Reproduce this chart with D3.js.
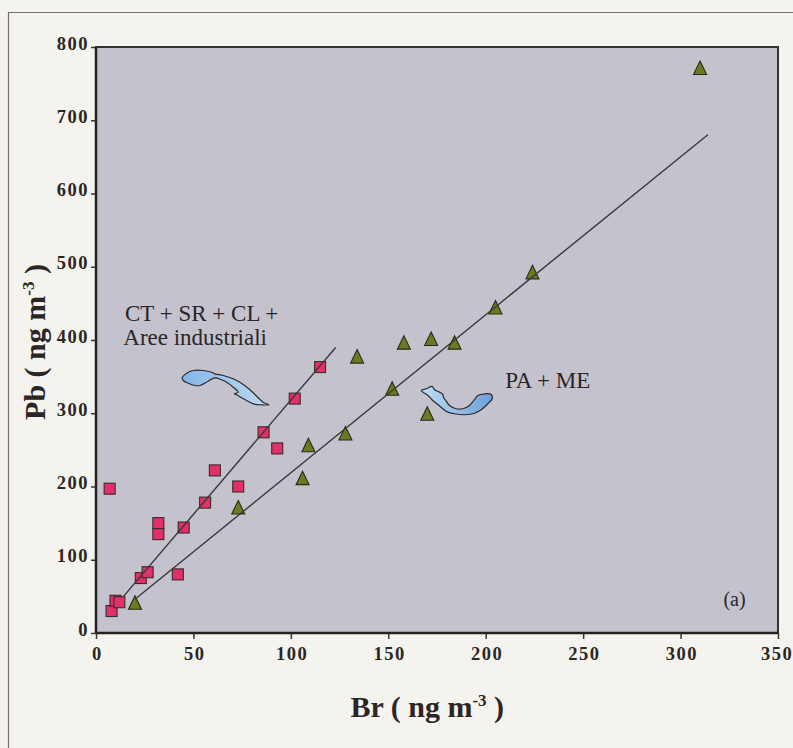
<!DOCTYPE html>
<html><head><meta charset="utf-8">
<script src="https://cdn.jsdelivr.net/npm/d3@7"></script>
<style>
body{margin:0;background:#f5f3ee;}
svg{display:block;}
text{font-family:"Liberation Serif","Times New Roman",serif;fill:#2b2624;}
</style>
</head><body>
<svg id="chart" width="793" height="748"></svg>
<script>
// ---- data ----
const xTickValues = [0, 50, 100, 150, 200, 250, 300, 350];
const yTickValues = [0, 100, 200, 300, 400, 500, 600, 700, 800];

// CT + SR + CL + Aree industriali (squares)
const industrialBr = [7, 8, 10, 12, 23, 26.5, 32, 32, 42, 45, 56, 61, 73, 86, 93, 102, 115];
const industrialPb = [197, 30, 44, 42, 75, 83, 150, 135, 80, 144, 178, 222, 200, 274, 252, 320, 363];

// PA + ME (triangles)
const paMeBr = [20, 73, 106, 109, 128, 134, 152, 158, 170, 172, 184, 205, 224, 310];
const paMePb = [40, 170, 210, 255, 271, 376, 332, 395, 298, 400, 395, 443, 491, 770];

// regression lines: [slope, intercept, xStart, xEnd]
const industrialFit = [3.12, 6, 14, 123];
const paMeFit = [2.157, 3, 20, 314];

// annotation texts
const labelIndustrial1 = "CT + SR + CL +";
const labelIndustrial2 = "Aree industriali";
const labelPaMe = "PA + ME";
const panelLabel = "(a)";

// ---- layout ----
const svg = d3.select("#chart");
const W = 793, H = 748;
const plot = {left: 96, right: 778, top: 47, bottom: 633};

const x = d3.scaleLinear().domain([0, 350]).range([plot.left, plot.right]);
const y = d3.scaleLinear().domain([0, 800]).range([plot.bottom, plot.top]);

// page background & outer frame
svg.append("rect").attr("width", W).attr("height", H).attr("fill", "#f5f3ee");
svg.append("path")
  .attr("d", `M8.5,${H} L8.5,12.5 L${W},12.5`)
  .attr("fill", "none").attr("stroke", "#77726c").attr("stroke-width", 1.2);

// plot area
svg.append("rect")
  .attr("x", plot.left).attr("y", plot.top)
  .attr("width", plot.right - plot.left).attr("height", plot.bottom - plot.top)
  .attr("fill", "#c4c2cd");

// axes
const xAxis = svg.append("g")
  .attr("transform", `translate(0,${plot.bottom})`)
  .call(d3.axisBottom(x).tickValues(xTickValues).tickSize(6).tickPadding(8));
const yAxis = svg.append("g")
  .attr("transform", `translate(${plot.left},0)`)
  .call(d3.axisLeft(y).tickValues(yTickValues).tickSize(5).tickPadding(2));

[xAxis, yAxis].forEach(g => {
  g.select(".domain").remove();
  g.selectAll(".tick line").attr("stroke", "#3a3532").attr("stroke-width", 1.5);
  g.selectAll(".tick text")
    .style("font-family", '"Liberation Serif","Times New Roman",serif')
    .style("font-size", "18.5px").style("font-weight", "bold")
    .style("letter-spacing", "1.5px")
    .attr("fill", "#2b2624");
});
yAxis.selectAll(".tick text").attr("dy", "0.12em");
xAxis.selectAll(".tick text").attr("dx", d => d === 350 ? "-1.5px" : "0.8px");

// plot frame
svg.append("rect")
  .attr("x", plot.left).attr("y", plot.top)
  .attr("width", plot.right - plot.left).attr("height", plot.bottom - plot.top)
  .attr("fill", "none").attr("stroke", "#34332c").attr("stroke-width", 2);
svg.append("line")
  .attr("x1", plot.left).attr("x2", plot.right)
  .attr("y1", plot.bottom).attr("y2", plot.bottom)
  .attr("stroke", "#262220").attr("stroke-width", 2.5);
svg.append("line")
  .attr("x1", plot.left).attr("x2", plot.left)
  .attr("y1", plot.top).attr("y2", plot.bottom)
  .attr("stroke", "#262220").attr("stroke-width", 2.5);

// axis titles
const xt = svg.append("text")
  .attr("x", x(170)).attr("y", 717)
  .attr("text-anchor", "middle")
  .style("font-size", "30px").style("font-weight", "bold");
xt.append("tspan").text("Br ( ng m");
xt.append("tspan").attr("dy", -11).style("font-size", "17px").text("-3");
xt.append("tspan").attr("dy", 11).text(" )");

const yt = svg.append("text")
  .attr("transform", `translate(45,${(y(0) + y(800)) / 2 + 2}) rotate(-90)`)
  .attr("text-anchor", "middle")
  .style("font-size", "30px").style("font-weight", "bold");
yt.append("tspan").text("Pb ( ng m");
yt.append("tspan").attr("dy", -11).style("font-size", "17px").text("-3");
yt.append("tspan").attr("dy", 11).text(" )");

// markers
const industrialData = industrialBr.map((b, i) => ({br: b, pb: industrialPb[i]}));
const paMeData = paMeBr.map((b, i) => ({br: b, pb: paMePb[i]}));

svg.append("g").selectAll("rect").data(industrialData).join("rect")
  .attr("x", d => x(d.br) - 5.5).attr("y", d => y(d.pb) - 5.5)
  .attr("width", 11).attr("height", 11)
  .attr("fill", "#e3306b").attr("stroke", "#3b2a2a").attr("stroke-width", 1.1);

svg.append("g").selectAll("path").data(paMeData).join("path")
  .attr("d", "M0,-8 L6.5,5.5 L-6.5,5.5 Z")
  .attr("transform", d => `translate(${x(d.br)},${y(d.pb)})`)
  .attr("fill", "#6b7b1d").attr("stroke", "#2a2a1c").attr("stroke-width", 1.1);

// regression lines (drawn above markers)
[industrialFit, paMeFit].forEach(([m, c, x0, x1]) => {
  svg.append("line")
    .attr("x1", x(x0)).attr("y1", y(m * x0 + c))
    .attr("x2", x(x1)).attr("y2", y(m * x1 + c))
    .attr("stroke", "#3a3835").attr("stroke-width", 1.4);
});

// annotation labels
svg.append("text").attr("x", x(14.9)).attr("y", y(426.6))
  .style("font-size", "23px").text(labelIndustrial1);
svg.append("text").attr("x", x(14)).attr("y", y(392.5))
  .style("font-size", "23px").text(labelIndustrial2);
svg.append("text").attr("x", x(210)).attr("y", y(335))
  .style("font-size", "23px").text(labelPaMe);
svg.append("text").attr("x", x(322)).attr("y", y(37))
  .style("font-size", "20px").text(panelLabel);

// curved blue arrows (decorative annotations), anchored in data coords
const defs = svg.append("defs");
const g1 = defs.append("linearGradient").attr("id", "ag1").attr("x1", "0").attr("x2", "1");
g1.append("stop").attr("offset", "0").attr("stop-color", "#86b5e6");
g1.append("stop").attr("offset", "1").attr("stop-color", "#bcdaf3");
const g2 = defs.append("linearGradient").attr("id", "ag2").attr("x1", "0").attr("x2", "1");
g2.append("stop").attr("offset", "0").attr("stop-color", "#c0dcf3");
g2.append("stop").attr("offset", "1").attr("stop-color", "#6c9fd8");

const arrow1 = [[7.3,17.3],[11.7,12.7],[18.3,10],[28.3,10],[36.7,11.7],[40,13.3],[48.3,15],[58.3,18.3],
  [68.3,24],[76.7,30.7],[83.3,37.3],[88.3,41.7],[94,44.3],[86.7,44.3],[78.3,43.3],[71.7,40],[66.7,37.3],
  [61.7,34.3],[59.3,33.3],[63.3,31.7],[58.3,26.7],[53.3,22.7],[46.7,19.3],[40,17.3],[33.3,20.7],[25,25],
  [20,25],[13.3,22.7],[8.3,20]];
const arrow2 = [[11.7,10],[16.7,8.3],[22.7,6],[25,9.3],[30,11.7],[33.3,14],[34,16.7],[36.7,20.7],[40,25],
  [46.7,28.3],[53.3,28.3],[60,25],[65,19.3],[68.3,15],[81.7,14],[82.7,18.3],[78.3,23.3],[71.7,29.3],
  [63.3,33.3],[53.3,34.3],[45,33.3],[38.3,31.7],[33.3,28.3],[28.3,24],[23.3,20],[18.3,15],[13.3,11.7]];
const shape = d3.line().curve(d3.curveCatmullRomClosed.alpha(0.5));

svg.append("path").attr("d", shape(arrow1))
  .attr("transform", `translate(${x(40.5)},${y(372)})`)
  .attr("fill", "url(#ag1)").attr("stroke", "#2e2a2c").attr("stroke-width", 1.2);
svg.append("path").attr("d", shape(arrow2))
  .attr("transform", `translate(${x(160.9)},${y(344.8)})`)
  .attr("fill", "url(#ag2)").attr("stroke", "#2e2a2c").attr("stroke-width", 1.2);
</script>
</body></html>
